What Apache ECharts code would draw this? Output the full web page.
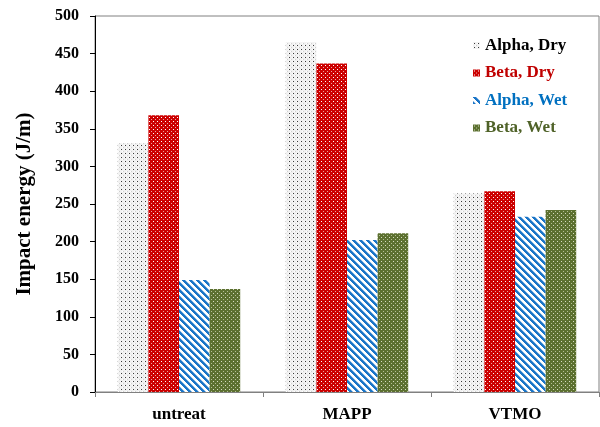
<!DOCTYPE html>
<html>
<head>
<meta charset="utf-8">
<script src="https://cdn.jsdelivr.net/npm/echarts@6/dist/echarts.min.js"></script>
<style>html,body{margin:0;padding:0;background:#fff}#c{width:600px;height:427px}</style>
</head>
<body>
<div id="c"></div>
<script>
const categories = ['untreat', 'MAPP', 'VTMO'];
const seriesNames = ['Alpha, Dry', 'Beta, Dry', 'Alpha, Wet', 'Beta, Wet'];
const alphaDry = [331, 465, 264];
const betaDry = [368, 437, 267];
const alphaWet = [149, 202, 233];
const betaWet = [137, 211, 242];
const yTicks = [0, 50, 100, 150, 200, 250, 300, 350, 400, 450, 500];

function makeTile(w, h, bg, draw) {
  const c = document.createElement('canvas');
  c.width = w; c.height = h;
  const g = c.getContext('2d');
  g.fillStyle = bg; g.fillRect(0, 0, w, h);
  draw(g);
  return { image: c, repeat: 'repeat' };
}
function px(g, x, y, col) { g.fillStyle = col; g.fillRect(x, y, 1, 1); }

const patAlphaDry = makeTile(4, 4, '#f1f1f1', g => {
  px(g, 1, 1, '#3a3a3a'); px(g, 3, 3, '#d0d0d0'); px(g, 0, 1, '#ffffff'); px(g, 2, 3, '#ffffff');
});
const patBetaDry = makeTile(4, 4, '#cc0000', g => {
  px(g, 1, 1, '#ffffff'); px(g, 3, 3, '#e8a0a0');
});
const patAlphaWet = makeTile(7, 7, '#ffffff', g => {
  for (let y = 0; y < 7; y++) for (let x = 0; x < 7; x++) {
    const d = ((x - y) % 7 + 7) % 7;
    if (d < 3) px(g, x, y, '#1a75c8');
    else if (d === 3) px(g, x, y, '#8fbbe3');
  }
});
const patBetaWet = makeTile(4, 4, '#5c7030', g => {
  px(g, 1, 1, '#d6dcc2'); px(g, 3, 3, '#b4c094');
});

const colors = ['#000000', '#c00000', '#0070c0', '#4f6228'];
const pats = [patAlphaDry, patBetaDry, patAlphaWet, patBetaWet];
const data = [alphaDry, betaDry, alphaWet, betaWet];
const font = 'Liberation Serif';

const chart = echarts.init(document.getElementById('c'), null, { renderer: 'canvas' });
chart.setOption({
  animation: false,
  grid: { left: 95, right: 1, top: 16, bottom: 35, show: true, borderColor: '#808080', borderWidth: 1 },
  legend: {
    orient: 'vertical', left: 468, top: 32, itemWidth: 7, itemHeight: 7, itemGap: 10.5,
    textStyle: { fontFamily: font, fontWeight: 'bold', fontSize: 17 },
    data: seriesNames.map((n, i) => ({ name: n, icon: 'rect', textStyle: { color: colors[i] } }))
  },
  xAxis: {
    type: 'category', data: categories,
    axisLine: { lineStyle: { color: '#808080', width: 1 } },
    axisTick: { show: true, length: 5, lineStyle: { color: '#808080' } },
    axisLabel: { fontFamily: font, fontWeight: 'bold', fontSize: 17, color: '#000', margin: 14 }
  },
  yAxis: {
    type: 'value', min: yTicks[0], max: yTicks[yTicks.length - 1], interval: 50,
    name: 'Impact energy (J/m)', nameLocation: 'middle', nameGap: 60,
    nameTextStyle: { fontFamily: font, fontWeight: 'bold', fontSize: 21, color: '#000' },
    axisLine: { show: true, lineStyle: { color: '#000', width: 1 } },
    axisTick: { show: true, length: 5, lineStyle: { color: '#000' } },
    splitLine: { show: false },
    axisLabel: { fontFamily: font, fontWeight: 'bold', fontSize: 16, color: '#000', margin: 16 }
  },
  series: seriesNames.map((n, i) => ({
    name: n, type: 'bar', data: data[i],
    barWidth: 30.6, barGap: '0%', barCategoryGap: '27%',
    itemStyle: { color: pats[i] }
  }))
});
</script>
</body>
</html>
